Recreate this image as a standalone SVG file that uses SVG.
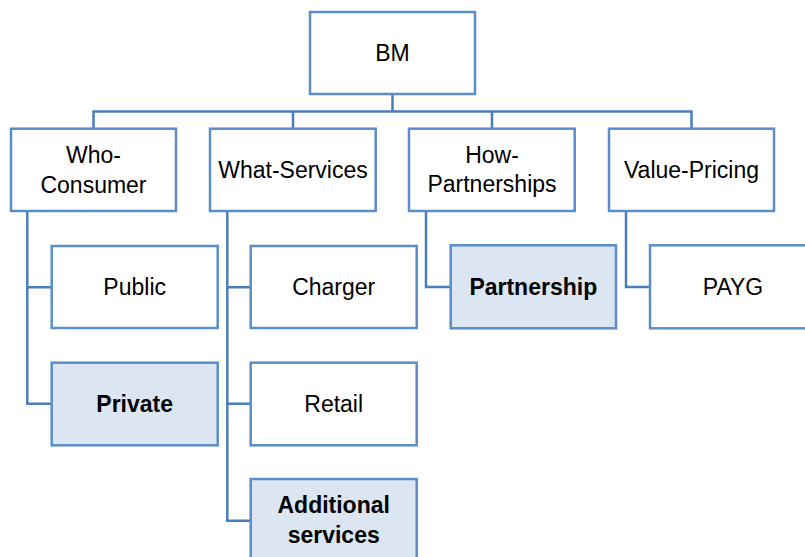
<svg xmlns="http://www.w3.org/2000/svg" width="805" height="557" viewBox="0 0 805 557">
<style>
.box{fill:#ffffff;stroke:#5b8ec8;stroke-width:2.5}
.hl{fill:#dce6f2}
.c{fill:none;stroke:#4a7ebb;stroke-width:2.5}
text{font-family:"Liberation Sans",Arial,sans-serif;font-size:23px;fill:#000;text-anchor:middle}
.b{font-weight:bold}
</style>
<rect width="805" height="557" fill="#ffffff"/>
<g id="connectors">
<path class="c" d="M392.5 94V111.5M93.5 128.7V111.5H691.5V128.7M293 128.7V111.5M492 128.7V111.5"/>
<path class="c" d="M27.3 211V403.7H51.7M27.3 287.3H51.7"/>
<path class="c" d="M227.3 211V520.7H250.7M227.3 287.3H250.7M227.3 403.7H250.7"/>
<path class="c" d="M426 211V287H450.7"/>
<path class="c" d="M626 211V287H650"/>
</g>
<g id="n-bm"><rect class="box" x="310" y="12" width="165" height="82"/><text x="392.5" y="61">BM</text></g>
<g id="n-who"><rect class="box" x="11" y="128.7" width="165" height="82.3"/><text x="93.5" y="163.3">Who-</text><text x="93.5" y="192.7">Consumer</text></g>
<g id="n-what"><rect class="box" x="210" y="128.7" width="165.7" height="82.3"/><text x="293" y="177.7">What-Services</text></g>
<g id="n-how"><rect class="box" x="409" y="128.7" width="165.7" height="82.3"/><text x="492" y="162.7">How-</text><text x="492" y="192">Partnerships</text></g>
<g id="n-value"><rect class="box" x="609" y="128.7" width="165" height="82.3"/><text x="691.5" y="178">Value-Pricing</text></g>
<g id="n-public"><rect class="box" x="51.7" y="246" width="166" height="82"/><text x="134.7" y="295">Public</text></g>
<g id="n-private"><rect class="box hl" x="51.7" y="362.7" width="166" height="82.6"/><text class="b" x="134.7" y="411.5">Private</text></g>
<g id="n-charger"><rect class="box" x="250.7" y="246" width="166" height="82"/><text x="333.7" y="295">Charger</text></g>
<g id="n-retail"><rect class="box" x="250.7" y="362.7" width="166" height="82.6"/><text x="333.7" y="411.5">Retail</text></g>
<g id="n-additional"><rect class="box hl" x="250.7" y="479" width="166" height="84"/><text class="b" x="333.7" y="513.3">Additional</text><text class="b" x="333.7" y="542.7">services</text></g>
<g id="n-partnership"><rect class="box hl" x="450.7" y="245.3" width="165.3" height="83"/><text class="b" x="533.3" y="294.5">Partnership</text></g>
<g id="n-payg"><rect class="box" x="650" y="245.3" width="166" height="83"/><text x="733" y="294.5">PAYG</text></g>
</svg>
